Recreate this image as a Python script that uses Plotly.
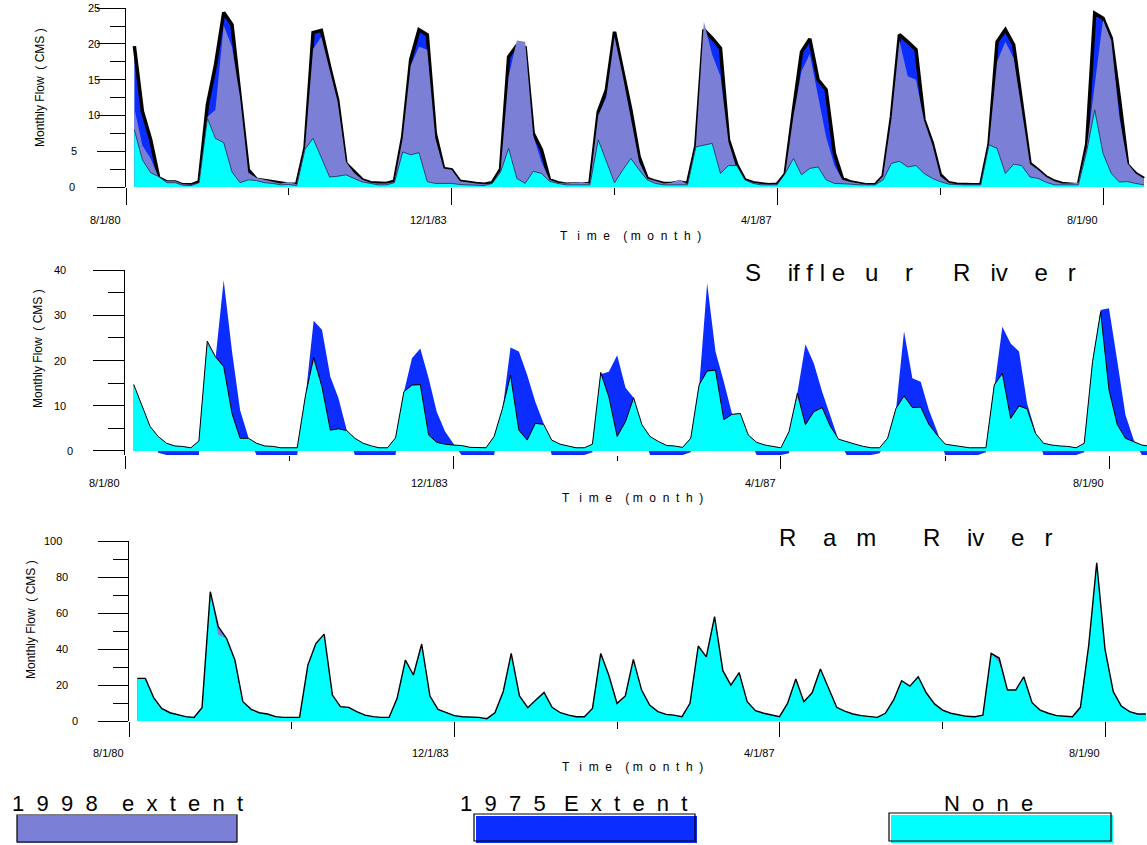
import plotly.graph_objects as go
import pandas as pd

W, H = 1147, 845

# ---------------- DATA ----------------
months = pd.date_range("1980-09-01", periods=125, freq="MS")

# Top panel (unnamed river)
top_1975 = [19.7, 10.6, 6.6, 1.3, 0.7, 0.7, 0.3, 0.3, 0.7,
            11.5, 17.0, 24.4, 22.7, 13.0, 2.4, 1.1, 0.9, 0.7, 0.5, 0.4, 0.4,
            5.5, 21.6, 21.9, 16.8, 12.2, 3.3, 2.2, 1.0, 0.6, 0.5, 0.5, 0.8,
            7.0, 17.8, 22.0, 21.3, 7.5, 2.6, 2.4, 0.8, 0.6, 0.5, 0.4, 0.6,
            2.5, 18.2, 19.8, 19.5, 7.5, 5.2, 1.0, 0.6, 0.4, 0.4, 0.4, 0.5,
            10.5, 13.5, 21.7, 16.4, 10.8, 4.2, 1.2, 0.8, 0.5, 0.5, 0.7, 0.5,
            5.8, 22.0, 20.8, 19.4, 6.6, 3.1, 1.0, 0.6, 0.4, 0.3, 0.4,
            1.8, 10.8, 18.9, 20.7, 15.0, 13.6, 4.7, 1.2, 0.7, 0.5, 0.3, 0.3,
            1.5, 9.8, 21.3, 20.3, 19.2, 9.4, 6.1, 1.7, 0.6, 0.4, 0.3, 0.3, 0.3,
            6.0, 20.3, 22.0, 19.9, 12.0, 3.3, 2.4, 1.4, 0.8, 0.5, 0.4, 0.3,
            6.0, 24.3, 23.6, 20.8, 12.5, 3.1, 1.9, 1.2]
top_1998 = [11.0, 5.8, 4.0, 1.3, 0.8, 0.8, 0.4, 0.3, 0.6,
            9.8, 10.8, 22.6, 19.6, 12.6, 2.0, 1.3, 1.0, 0.7, 0.5, 0.7, 0.4,
            5.5, 19.3, 21.0, 16.3, 11.9, 3.5, 2.0, 1.0, 0.6, 0.5, 0.5, 0.7,
            6.8, 17.0, 19.6, 19.2, 6.8, 2.6, 2.4, 0.8, 0.6, 0.5, 0.4, 0.5,
            2.3, 15.5, 20.5, 20.3, 7.2, 3.5, 1.0, 0.6, 0.5, 0.6, 0.7, 0.5,
            10.0, 12.5, 21.0, 15.5, 9.5, 3.5, 1.2, 0.8, 0.5, 0.6, 1.0, 0.4,
            5.8, 23.1, 18.5, 15.5, 6.3, 2.5, 1.0, 0.6, 0.4, 0.3, 0.4,
            1.8, 10.0, 16.2, 18.6, 12.5, 7.0, 3.0, 1.0, 0.7, 0.5, 0.3, 0.3,
            1.5, 9.5, 20.5, 15.5, 15.0, 9.3, 5.9, 1.5, 0.6, 0.4, 0.3, 0.3, 0.3,
            6.0, 17.5, 20.3, 18.0, 10.8, 3.2, 2.4, 1.4, 0.8, 0.5, 0.5, 0.6,
            5.5, 14.0, 23.4, 20.5, 9.8, 3.3, 1.9, 1.2]
top_none = [8.0, 3.8, 2.0, 1.45, 0.6, 0.6, 0.25, 0.2, 0.6,
            9.6, 6.8, 6.2, 2.1, 0.6, 1.0, 0.9, 0.6, 0.5, 0.3, 0.35, 0.2,
            5.3, 6.8, 4.2, 1.4, 1.5, 1.7, 1.2, 0.7, 0.5, 0.3, 0.3, 0.6,
            4.9, 4.5, 4.8, 0.75, 0.5, 0.5, 0.5, 0.35, 0.3, 0.3, 0.2, 0.5,
            2.1, 5.4, 1.2, 0.5, 2.2, 1.9, 0.8, 0.5, 0.3, 0.3, 0.3, 0.3,
            6.6, 3.5, 0.6, 2.4, 4.0, 2.4, 1.0, 0.5, 0.3, 0.3, 0.3, 0.3,
            5.6, 5.8, 6.1, 1.9, 3.0, 3.0, 1.0, 0.5, 0.3, 0.3, 0.3,
            1.9, 4.0, 1.7, 2.6, 2.8, 1.0, 0.5, 0.5, 0.4, 0.3, 0.3, 0.3,
            1.0, 3.3, 3.6, 2.8, 3.0, 1.9, 1.2, 0.75, 0.4, 0.3, 0.3, 0.3, 0.3,
            5.9, 5.4, 1.9, 3.2, 3.0, 1.4, 1.2, 0.65, 0.3, 0.3, 0.3, 0.3,
            5.0, 10.8, 4.7, 1.9, 0.7, 0.75, 0.5, 0.3]

# Siffleur River
mid_1975 = [14.7, 10.2, 5.4, -0.4, -0.9, -0.9, -0.9, -0.9, -0.9,
            20.0, 20.0, 37.8, 22.0, 9.0, 3.0, -0.9, -0.9, -0.9, -0.9, -0.9, -0.9,
            12.0, 28.8, 26.8, 16.4, 11.7, 4.6, -0.9, -0.9, -0.9, -0.9, -0.9, -0.9,
            13.0, 20.5, 22.7, 16.1, 8.7, 4.3, 1.7, -0.9, -0.9, -0.9, -0.9, -0.9,
            9.0, 22.9, 22.0, 16.8, 10.9, 6.1, -0.9, -0.9, -0.9, -0.9, -0.9, -0.3,
            17.0, 17.5, 21.2, 14.0, 11.8, 5.0, -0.9, -0.9, -0.9, -0.9, -0.9, -0.3,
            14.0, 37.1, 22.0, 15.3, 8.3, 7.0, 3.0, -0.9, -0.9, -0.9, -0.9,
            -0.5, 12.8, 23.6, 19.4, 13.1, 8.0, 2.4, -0.9, -0.9, -0.9, -0.9, -0.5,
            2.5, 9.0, 26.5, 16.1, 15.3, 9.1, 4.3, -0.9, -0.9, -0.9, -0.9, -0.9, -0.3,
            14.0, 27.5, 23.8, 22.0, 10.5, 4.3, -0.9, -0.9, -0.9, -0.9, -0.9, -0.3,
            19.0, 31.2, 31.6, 19.8, 8.0, 2.4, -0.9, -0.9]
mid_1998 = [14.7, 10.2, 5.4, 3.2, 1.7, 1.1, 1.0, 0.7, 2.2,
            24.3, 20.9, 18.7, 8.3, 2.8, 2.8, 1.7, 1.1, 1.0, 0.7, 0.7, 0.7,
            12.4, 20.7, 14.2, 4.6, 4.9, 4.5, 2.8, 1.7, 1.1, 0.7, 0.7, 2.9,
            13.1, 14.6, 14.7, 3.5, 1.9, 1.5, 1.3, 1.2, 0.8, 0.7, 0.7, 3.2,
            9.4, 16.8, 4.6, 2.4, 6.1, 5.9, 2.4, 1.5, 1.0, 0.7, 0.7, 1.5,
            17.4, 12.0, 3.2, 6.5, 11.8, 5.8, 3.2, 2.1, 1.2, 1.1, 0.8, 2.8,
            14.6, 17.7, 17.9, 6.9, 8.1, 8.3, 3.5, 1.9, 1.3, 1.0, 0.7,
            4.3, 12.8, 5.8, 8.7, 9.6, 5.5, 2.6, 2.0, 1.5, 1.0, 0.7, 0.7,
            2.8, 9.4, 12.2, 9.6, 9.7, 5.9, 3.5, 1.5, 1.2, 1.0, 0.7, 0.7, 0.7,
            14.6, 17.2, 7.2, 10.0, 9.3, 3.9, 1.7, 1.3, 1.1, 1.0, 0.7, 1.7,
            19.8, 30.8, 13.5, 5.8, 2.8, 2.1, 1.3, 1.0]
mid_none = [14.7, 10.2, 5.4, 3.2, 1.7, 1.1, 1.0, 0.7, 2.2,
            23.6, 20.6, 18.5, 8.1, 2.8, 2.8, 1.7, 1.1, 1.0, 0.7, 0.7, 0.7,
            12.2, 19.9, 14.0, 4.6, 4.9, 4.5, 2.8, 1.7, 1.1, 0.7, 0.7, 2.9,
            13.0, 14.4, 14.5, 3.5, 1.9, 1.5, 1.3, 1.2, 0.8, 0.7, 0.7, 3.2,
            9.3, 16.3, 4.6, 2.4, 6.0, 5.8, 2.4, 1.5, 1.0, 0.7, 0.7, 1.5,
            17.0, 11.8, 3.2, 6.4, 11.6, 5.8, 3.2, 2.1, 1.2, 1.1, 0.8, 2.8,
            14.4, 17.5, 17.7, 6.9, 8.0, 8.2, 3.5, 1.9, 1.3, 1.0, 0.7,
            4.3, 12.0, 5.8, 8.5, 9.4, 5.5, 2.6, 2.0, 1.5, 1.0, 0.7, 0.7,
            2.8, 9.3, 12.0, 9.5, 9.6, 5.9, 3.5, 1.5, 1.2, 1.0, 0.7, 0.7, 0.7,
            14.4, 17.0, 7.2, 9.8, 9.2, 3.9, 1.7, 1.3, 1.1, 1.0, 0.7, 1.7,
            19.6, 30.3, 13.3, 5.8, 2.8, 2.1, 1.3, 1.0]

# Ram River
ram_1975 = [23.7, 23.7, 13.0, 7.0, 4.6, 3.3, 2.4, 2.0, 7.4,
            71.9, 48.0, 45.9, 33.9, 10.7, 6.5, 4.6, 3.9, 2.4, 2.0, 2.0, 2.0,
            31.1, 43.1, 48.3, 14.4, 8.0, 7.6, 5.2, 3.3, 2.4, 2.0, 2.0, 12.6,
            33.9, 25.6, 41.3, 13.9, 6.5, 4.6, 3.0, 2.4, 2.2, 2.0, 1.3, 4.6,
            16.3, 37.6, 13.9, 7.4, 11.7, 15.9, 7.6, 4.6, 3.3, 2.4, 2.4, 7.0,
            37.6, 25.6, 9.8, 13.9, 34.3, 17.2, 8.9, 5.2, 3.7, 3.3, 2.4, 9.8,
            41.7, 35.7, 56.5, 28.0, 20.0, 26.9, 10.7, 5.7, 4.3, 3.3, 2.4,
            9.8, 23.3, 10.7, 15.7, 28.9, 18.0, 7.6, 5.5, 3.9, 3.0, 2.4, 2.0,
            4.3, 11.7, 22.4, 19.4, 24.6, 15.7, 9.5, 6.1, 4.3, 3.5, 2.6, 2.4, 3.3,
            37.6, 32.4, 17.2, 17.2, 24.6, 10.2, 6.1, 4.3, 3.0, 2.6, 2.4, 7.6,
            42.0, 86.0, 40.0, 16.3, 8.3, 5.2, 3.9, 3.9]
ram_1998 = [23.7, 23.7, 13.0, 7.0, 4.6, 3.3, 2.4, 2.0, 7.4,
            71.9, 52.5, 45.9, 33.9, 10.7, 6.5, 4.6, 3.9, 2.4, 2.0, 2.0, 2.0,
            31.1, 43.1, 48.3, 14.4, 8.0, 7.6, 5.2, 3.3, 2.4, 2.0, 2.0, 12.6,
            33.9, 25.6, 42.8, 13.9, 6.5, 4.6, 3.0, 2.4, 2.2, 2.0, 1.3, 4.6,
            16.3, 37.6, 13.9, 7.4, 11.7, 15.9, 7.6, 4.6, 3.3, 2.4, 2.4, 7.0,
            37.6, 25.6, 9.8, 13.9, 34.3, 17.2, 8.9, 5.2, 3.7, 3.3, 2.4, 9.8,
            41.7, 35.7, 58.0, 28.0, 20.0, 26.9, 10.7, 5.7, 4.3, 3.3, 2.4,
            9.8, 23.3, 10.7, 15.7, 28.9, 18.0, 7.6, 5.5, 3.9, 3.0, 2.4, 2.0,
            4.3, 11.7, 22.4, 19.4, 24.6, 15.7, 9.5, 6.1, 4.3, 3.5, 2.6, 2.4, 3.3,
            37.6, 35.0, 17.2, 17.2, 24.6, 10.2, 6.1, 4.3, 3.0, 2.6, 2.4, 7.6,
            42.0, 88.0, 40.0, 16.3, 8.3, 5.2, 3.9, 3.9]
ram_none = [23.7, 23.7, 13.0, 7.0, 4.6, 3.3, 2.4, 2.0, 7.4,
            71.9, 48.0, 45.9, 33.9, 10.7, 6.5, 4.6, 3.9, 2.4, 2.0, 2.0, 2.0,
            31.1, 43.1, 48.3, 14.4, 8.0, 7.6, 5.2, 3.3, 2.4, 2.0, 2.0, 12.6,
            33.9, 25.6, 41.3, 13.9, 6.5, 4.6, 3.0, 2.4, 2.2, 2.0, 1.3, 4.6,
            16.3, 37.6, 13.9, 7.4, 11.7, 15.9, 7.6, 4.6, 3.3, 2.4, 2.4, 7.0,
            37.6, 25.6, 9.8, 13.9, 34.3, 17.2, 8.9, 5.2, 3.7, 3.3, 2.4, 9.8,
            41.7, 35.7, 56.5, 28.0, 20.0, 26.9, 10.7, 5.7, 4.3, 3.3, 2.4,
            9.8, 23.3, 10.7, 15.7, 28.9, 18.0, 7.6, 5.5, 3.9, 3.0, 2.4, 2.0,
            4.3, 11.7, 22.4, 19.4, 24.6, 15.7, 9.5, 6.1, 4.3, 3.5, 2.6, 2.4, 3.3,
            37.6, 32.4, 17.2, 17.2, 24.6, 10.2, 6.1, 4.3, 3.0, 2.6, 2.4, 7.6,
            42.0, 86.0, 40.0, 16.3, 8.3, 5.2, 3.9, 3.9]

x_tick_dates = ["1980-08-01", "1983-12-01", "1987-04-01", "1990-08-01"]
x_tick_labels = ["8/1/80", "12/1/83", "4/1/87", "8/1/90"]
x_minor_dates = ["1982-04-01", "1985-08-01", "1988-12-01"]
top_yticks = [0, 5, 10, 15, 20, 25]
mid_yticks = [0, 10, 20, 30, 40]
ram_yticks = [0, 20, 40, 60, 80, 100]
legend_labels = ["1998 extent", "1975 Extent", "None"]
titles = ["Siffleur River", "Ram River"]

# ---------------- STYLE / LAYOUT ----------------
SLATE = "#7b7fd6"
BLUE = "#0c2dff"
CYAN = "#00ffff"
FONT = "Arial, 'Liberation Sans', sans-serif"
NB = "\u00a0"


def sp(s):
    return s.replace(" ", NB)


def fx(p):
    return p / W


def fy(p):
    return 1 - p / H


T0 = pd.Timestamp("1980-08-01")
T1 = pd.Timestamp("1990-08-01")


def xrng(p0, p1):
    per_px = (T1 - T0) / (p1 - p0)
    start = T0 - pd.Timedelta(hours=6)
    end = T1 + per_px * (W - p1)
    return [start.isoformat(), end.isoformat()]


panels = [
    dict(p0=126, p1=1103, top=8, bot=187, yr=[0, 25.03], dt=5, mdt=2.5,
         xlen=17, xmlen=7, ylen=28, ymlen=15),
    dict(p0=125.3, p1=1109, top=270, bot=455, yr=[-0.9, 40.05], dt=10, mdt=5,
         xlen=13, xmlen=5, ylen=31, ymlen=16),
    dict(p0=129, p1=1105, top=541, bot=721, yr=[0, 100.1], dt=20, mdt=10,
         xlen=15, xmlen=7, ylen=30, ymlen=15),
]

fig = go.Figure()


def area(y, color, ax, name, lw=0, lc=None):
    return go.Scatter(x=months, y=y, mode="lines", fill="tozeroy", fillcolor=color,
                      line=dict(color=lc or color, width=lw), xaxis="x" + ax, yaxis="y" + ax,
                      name=name, showlegend=False, hoverinfo="skip")


def line(y, ax, w):
    return go.Scatter(x=months, y=y, mode="lines", line=dict(color="black", width=w),
                      xaxis="x" + ax, yaxis="y" + ax, showlegend=False, hoverinfo="skip")


# top
fig.add_trace(area(top_1975, BLUE, "", "1975 Extent", lw=3.5, lc="black"))
fig.add_trace(area(top_1998, SLATE, "", "1998 extent", lw=0))
fig.add_trace(area(top_none, CYAN, "", "None", lw=0.8, lc="#25254f"))
# middle
fig.add_trace(area(mid_1975, BLUE, "2", "1975 Extent"))
fig.add_trace(area(mid_1998, SLATE, "2", "1998 extent"))
fig.add_trace(area(mid_none, CYAN, "2", "None"))
fig.add_trace(line(mid_1998, "2", 1.0))
# bottom
fig.add_trace(area(ram_1975, BLUE, "3", "1975 Extent"))
fig.add_trace(area(ram_1998, SLATE, "3", "1998 extent"))
fig.add_trace(area(ram_none, CYAN, "3", "None"))
fig.add_trace(line(ram_1998, "3", 1.4))

layout = dict(width=W, height=H, margin=dict(l=0, r=0, t=0, b=0),
              paper_bgcolor="white", plot_bgcolor="rgba(0,0,0,0)",
              font=dict(family=FONT, color="black"), showlegend=False)

for k, p in enumerate(panels):
    sfx = "" if k == 0 else str(k + 1)
    layout["xaxis" + sfx] = dict(
        domain=[fx(p["p0"]), 1], range=xrng(p["p0"], p["p1"]), type="date",
        anchor="y" + sfx, showgrid=False, zeroline=False, showline=False,
        ticks="outside", tickmode="array", tickvals=x_tick_dates, ticklen=p["xlen"],
        tickcolor="black", tickwidth=1, showticklabels=False,
        minor=dict(tickmode="array", tickvals=x_minor_dates, ticks="outside",
                   ticklen=p["xmlen"], tickcolor="black", tickwidth=1, showgrid=False))
    layout["yaxis" + sfx] = dict(
        domain=[fy(p["bot"]), fy(p["top"])], range=p["yr"], anchor="x" + sfx,
        showgrid=False, zeroline=False, showline=True, linecolor="black", linewidth=1,
        ticks="outside", tickmode="linear", tick0=0, dtick=p["dt"], ticklen=p["ylen"],
        tickcolor="black", tickwidth=1, showticklabels=False,
        minor=dict(tickmode="linear", tick0=0, dtick=p["mdt"], ticks="outside",
                   ticklen=p["ymlen"], tickcolor="black", tickwidth=1, showgrid=False))

ann = []
# y tick labels (positions per label as in the original)
ylab_pos = [
    ("", top_yticks, {0: 72, 5: 73.5}, 94),
    ("2", mid_yticks, {0: 70}, 59.5),
    ("3", ram_yticks, {0: 74.5, 100: 53}, 61.5),
]
for sfx, vals, special, cx in ylab_pos:
    for v in vals:
        ann.append(dict(xref="paper", x=fx(special.get(v, cx)), yref="y" + sfx, y=v,
                        text=str(v), showarrow=False, xanchor="center", yanchor="middle",
                        font=dict(size=11)))

# x tick labels, axis titles
xlab_y = [220, 483, 753]
time_pos = [(558, 236), (560, 498), (560, 767)]
ytitle_pos = [(40, 88), (38, 349), (31, 620)]
for k in range(3):
    sfx = "" if k == 0 else str(k + 1)
    for d, t in zip(x_tick_dates, x_tick_labels):
        ann.append(dict(xref="x" + sfx, x=d, yref="paper", y=fy(xlab_y[k]), text=t,
                        showarrow=False, xanchor="right", yanchor="middle", xshift=-3,
                        font=dict(size=11)))
    ann.append(dict(xref="paper", x=fx(time_pos[k][0]), yref="paper", y=fy(time_pos[k][1]),
                    text=sp("T   i  m  e    ( m  o  n  t  h  )"), showarrow=False,
                    xanchor="left", yanchor="middle", font=dict(size=12)))
    ann.append(dict(xref="paper", x=fx(ytitle_pos[k][0]), yref="paper", y=fy(ytitle_pos[k][1]),
                    text=sp("Monthly Flow  ( CMS )"), textangle=-90, showarrow=False,
                    xanchor="center", yanchor="middle", font=dict(size=12)))

# river titles
ann.append(dict(xref="paper", x=fx(743), yref="paper", y=fy(273),
                text=sp("S    if f l e   u    r      R   iv    e   r"), showarrow=False,
                xanchor="left", yanchor="middle", font=dict(size=24)))
ann.append(dict(xref="paper", x=fx(777), yref="paper", y=fy(537),
                text=sp("R    a   m       R    iv    e   r"), showarrow=False,
                xanchor="left", yanchor="middle", font=dict(size=24)))

# legend texts
leg_txt = [sp("1  9  9  8    e  x  t  e  n  t"), sp("1  9  7  5   E  x  t  e  n  t"), sp("N  o  n  e")]
leg_x = [10, 458, 942]
for t, x in zip(leg_txt, leg_x):
    ann.append(dict(xref="paper", x=fx(x), yref="paper", y=fy(803), text=t, showarrow=False,
                    xanchor="left", yanchor="middle", font=dict(size=22)))

layout["annotations"] = ann


def rect(x0, y0, x1, y1, fill=None, lc=None, lw=0):
    return dict(type="rect", xref="paper", yref="paper", x0=fx(x0), x1=fx(x1),
                y0=fy(y1), y1=fy(y0), fillcolor=fill or "rgba(0,0,0,0)",
                line=dict(color=lc or "rgba(0,0,0,0)", width=lw), layer="above")


layout["shapes"] = [
    rect(17, 816, 237, 843, fill=SLATE),
    rect(17, 815, 237, 842, lc="black", lw=1.2),
    rect(476, 816, 697, 843, fill=BLUE),
    rect(474, 814, 695, 841, lc="black", lw=1.2),
    rect(891, 815, 1113, 843, fill=CYAN),
    rect(889, 813, 1111, 841, lc="black", lw=1.2),
]

fig.update_layout(**layout)
fig.write_html("out.html", config={"displayModeBar": False},
               post_script="document.body.style.margin='0';document.body.style.overflow='hidden';")
